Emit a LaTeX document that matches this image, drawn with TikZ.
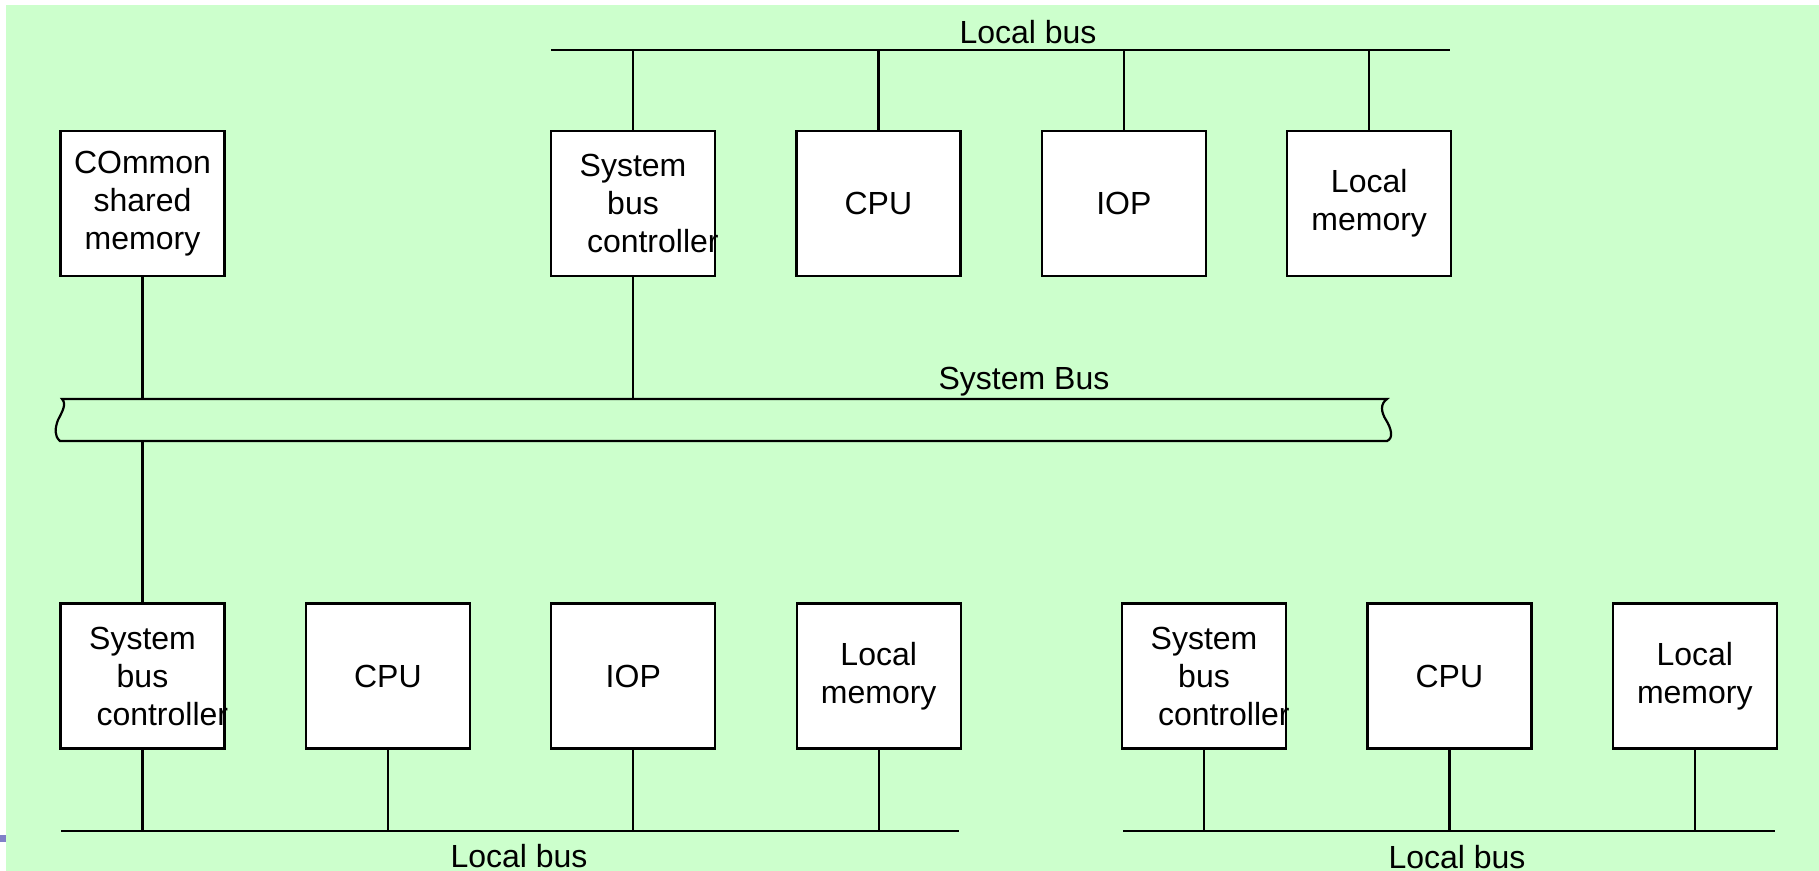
\documentclass[tikz,border=0pt]{standalone}
\usepackage{fontspec}
\setmainfont{Liberation Sans}
\definecolor{panelGreen}{HTML}{CCFFCC}
\definecolor{markBlue}{HTML}{8080C8}
\usetikzlibrary{positioning}

\newcommand{\ctrltext}{System\\bus\\\hspace*{18pt}\mbox{controller}}

\begin{document}
\begin{tikzpicture}[x=0.5pt, y=-0.5pt, line width=1.1pt,
    font=\fontsize{16pt}{19pt}\selectfont,
    unit/.style={draw, fill=white, inner sep=0pt, minimum width=82pt,
      minimum height=72.5pt, text width=82pt, align=center},
    node distance=39.6pt]
  \useasboundingbox (0,0) rectangle (1819,871);
  \fill[panelGreen] (6,5) rectangle (1819,871);
  \fill[markBlue] (0,835) rectangle (6,842);

  % upper cluster
  \node[unit] (memC) at (142.5,203.5) {COmmon\\shared\\memory};
  \node[unit] (sbcT) at (633,203.5) {\ctrltext};
  \node[unit, right=of sbcT] (cpuT) {CPU};
  \node[unit, right=of cpuT] (iopT) {IOP};
  \node[unit, right=of iopT] (lmT) {Local\\memory};

  % lower clusters
  \node[unit] (sbcA) at (142.5,676) {\ctrltext};
  \node[unit, right=of sbcA] (cpuA) {CPU};
  \node[unit, right=of cpuA] (iopA) {IOP};
  \node[unit, right=of iopA] (lmA) {Local\\memory};
  \node[unit] (sbcB) at (1204,676) {\ctrltext};
  \node[unit, right=of sbcB] (cpuB) {CPU};
  \node[unit, right=of cpuB] (lmB) {Local\\memory};

  % local bus on top
  \coordinate (lbT-w) at (551,50);
  \coordinate (lbT-e) at (1450,50);
  \draw (lbT-w) -- (lbT-e);
  \foreach \n in {sbcT,cpuT,iopT,lmT}
    \draw (\n.north) -- (\n.north |- lbT-w);
  \node (lbT-txt) at (1028,32) {Local bus};

  % system bus with torn ends
  \coordinate (sb-nw) at (62,399);
  \coordinate (sb-ne) at (1387,399);
  \coordinate (sb-se) at (1387,441);
  \coordinate (sb-sw) at (60,441);
  \draw (sb-nw) -- (sb-ne)
    .. controls (1380,404) and (1381,412) .. (1386,420)
    .. controls (1391,428) and (1394,438) .. (sb-se)
    -- (sb-sw)
    .. controls (54,436) and (55,428) .. (58,420)
    .. controls (62,412) and (67,404) .. (sb-nw) -- cycle;
  \node (sb-txt) at (1024,382) {System Bus};
  \draw (memC.south) -- (memC.south |- sb-nw);
  \draw (sbcT.south) -- (sbcT.south |- sb-nw);
  \draw (sbcA.north) -- (sbcA.north |- sb-sw);

  % local buses at the bottom
  \coordinate (lbA-w) at (61,831);
  \coordinate (lbA-e) at (959,831);
  \draw (lbA-w) -- (lbA-e);
  \foreach \n in {sbcA,cpuA,iopA,lmA}
    \draw (\n.south) -- (\n.south |- lbA-w);
  \node (lbA-txt) at (519,856) {Local bus};

  \coordinate (lbB-w) at (1123,831);
  \coordinate (lbB-e) at (1775,831);
  \draw (lbB-w) -- (lbB-e);
  \foreach \n in {sbcB,cpuB,lmB}
    \draw (\n.south) -- (\n.south |- lbB-w);
  \node (lbB-txt) at (1457,857) {Local bus};
\end{tikzpicture}
\end{document}
